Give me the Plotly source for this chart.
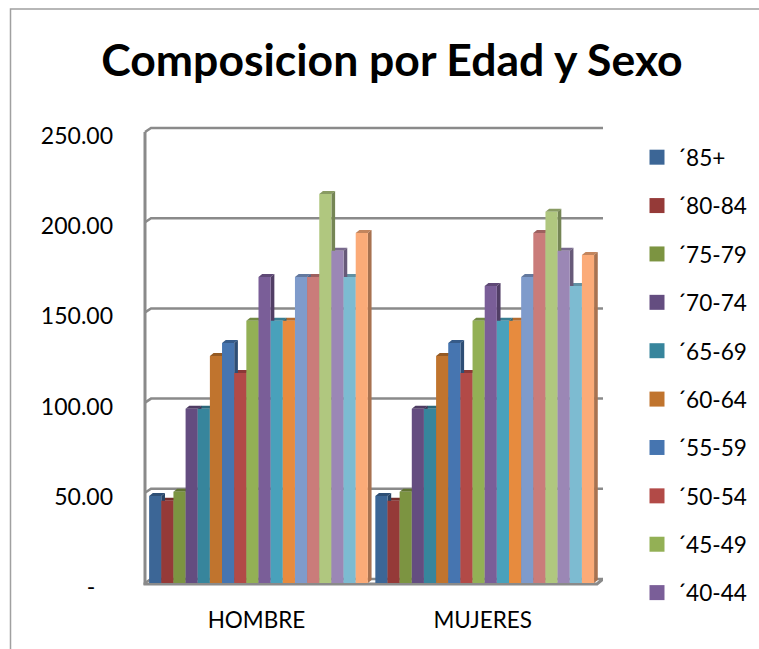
import plotly.graph_objects as go

TITLE = "Composicion por Edad y Sexo"
categories = ["HOMBRE", "MUJERES"]
series_names = ["´85+", "´80-84", "´75-79", "´70-74", "´65-69", "´60-64", "´55-59", "´50-54", "´45-49",
                "´40-44", "´35-39", "´30-34", "´25-29", "´20-24", "´15-19", "´10-14", "´5-9", "´0-4"]
hombre = [48.2, 45.6, 50.6, 96.6, 96.6, 125.8, 133, 116.4, 145.4, 169.6, 145.4, 145.4, 169.6, 169.6, 215.6, 184.2, 169.6, 194]
mujeres = [48.2, 45.6, 50.6, 96.6, 96.6, 125.8, 133, 116.4, 145.4, 164.6, 145.4, 145.4, 169.6, 194, 205.8, 184.2, 164.6, 181.8]
colors = ["#3C6696", "#953A38", "#7C9441", "#644D80", "#37859C", "#C0742E", "#4675B0", "#B24A47", "#93B055",
          "#7A5E98", "#49A1BB", "#E78B3E", "#7F9BCB", "#CA7C7A", "#B0C77F", "#9B87B5", "#7DBBD1", "#FBAB78"]
tick_vals = [0, 50, 100, 150, 200, 250]
tick_text = ["-\u00a0\u00a0\u00a0", "50.00", "100.00", "150.00", "200.00", "250.00"]
legend_count = 10

W, H = 759, 649
L, R, T, B = 140, 603, 124, 588          # axes area in page pixels
PR, PB = 758, 635                        # right / bottom of the paper region
CX0, CX = 258.5, 226.2                   # px of first category centre, px per category
ZERO, VS = 583.0, 1.804                  # px of value 0, px per value unit
GAP = 0.033
GREY = "#8A8A8A"


def shade(hex_color, k):
    return "#" + "".join(f"{int(int(hex_color[i:i+2], 16) * k):02X}" for i in (1, 3, 5))


px_x = lambda px: (px - CX0) / CX
px_dx = lambda px: px / CX
px_dy = lambda px: px / VS

fig = go.Figure()
shapes = []

# back wall grid: front edge, slanted to the back, then across
left, right, front_right = px_x(145), px_x(603), px_x(597)
wall_dx, wall_dy = px_dx(6), px_dy(4)
for v in tick_vals:
    shapes.append(dict(type="path", layer="below",
                       path=f"M {left} {v} L {left + wall_dx} {v + wall_dy} L {right} {v + wall_dy}",
                       line=dict(color=GREY, width=2.5)))
shapes.append(dict(type="line", layer="below", x0=left, x1=left, y0=-1, y1=250,
                   line=dict(color=GREY, width=3)))
shapes.append(dict(type="path", layer="below",
                   path=f"M {left - px_dx(1.5)} {-px_dy(1)} L {front_right} {-px_dy(1)} L {right} {wall_dy}",
                   line=dict(color=GREY, width=3)))

n = len(series_names)
bar_w = (1 - GAP) / n
depth_x, depth_y = px_dx(3.7), px_dy(3)
for c, vals in enumerate([hombre, mujeres]):
    for i in reversed(range(n)):
        x0 = c + (i - n / 2) * bar_w
        x1 = x0 + bar_w
        v = vals[i]
        shapes.append(dict(type="path", layer="below", line=dict(width=0), fillcolor=shade(colors[i], 0.78),
                           path=f"M {x0} {v} L {x0 + depth_x} {v + depth_y} L {x1 + depth_x} {v + depth_y} L {x1} {v} Z"))
        shapes.append(dict(type="path", layer="below", line=dict(width=0), fillcolor=shade(colors[i], 0.67),
                           path=f"M {x1} 0 L {x1 + depth_x} {depth_y} L {x1 + depth_x} {v + depth_y} L {x1} {v} Z"))

for i, name in enumerate(series_names):
    fig.add_trace(go.Bar(x=categories, y=[hombre[i], mujeres[i]], name=name,
                         marker=dict(color=colors[i], line=dict(width=0)), showlegend=False))

for i in range(legend_count):
    fig.add_trace(go.Scatter(x=[None], y=[None], mode="markers", name=series_names[i],
                             legendgroup=series_names[i],
                             marker=dict(symbol="square", size=15, color=colors[i])))

# outer chart border, open towards the right and bottom page edges
pw, ph = PR - L, PB - T
pxp = lambda px: (px - L) / pw
pyp = lambda py: (PB - py) / ph
shapes.append(dict(type="path", xref="paper", yref="paper",
                   path=f"M {pxp(759)} {pyp(9)} L {pxp(10.5)} {pyp(9)} L {pxp(10.5)} {pyp(649)}",
                   line=dict(color="#A0A0A0", width=1.5)))

fig.update_layout(
    width=W, height=H, autosize=False,
    margin=dict(l=L, r=W - PR, t=T, b=H - PB, pad=0),
    paper_bgcolor="white", plot_bgcolor="white",
    barmode="group", bargap=GAP, bargroupgap=0,
    font=dict(family="Lato", color="black", size=22),
    title=dict(text=TITLE, x=392 / W, xanchor="center", y=1 - 60 / H, yanchor="middle",
               font=dict(family="Lato", size=44.5, weight=700, color="black")),
    xaxis=dict(type="category", categoryorder="array", categoryarray=categories, domain=[0, pxp(R)],
               range=[px_x(L), px_x(R)], showgrid=False, showline=False, zeroline=False,
               ticks="", ticklabelstandoff=16, tickfont=dict(size=22.5), ticklabelshift=-2),
    yaxis=dict(domain=[pyp(B), 1], range=[(ZERO - B) / VS, (ZERO - T) / VS], tickmode="array",
               tickvals=tick_vals, ticktext=tick_text,
               showgrid=False, showline=False, zeroline=False, ticks="", ticklabelstandoff=26,
               ticklabelshift=4, tickfont=dict(size=23)),
    legend=dict(x=pxp(637), xanchor="left", y=pyp(136), yanchor="top", font=dict(size=22.6), maxheight=505,
                itemsizing="trace", tracegroupgap=16, bgcolor="rgba(0,0,0,0)", borderwidth=0),
    shapes=shapes,
)

fig.write_html("out.html", config={"displayModeBar": False}, post_script="document.body.style.margin='0';")
